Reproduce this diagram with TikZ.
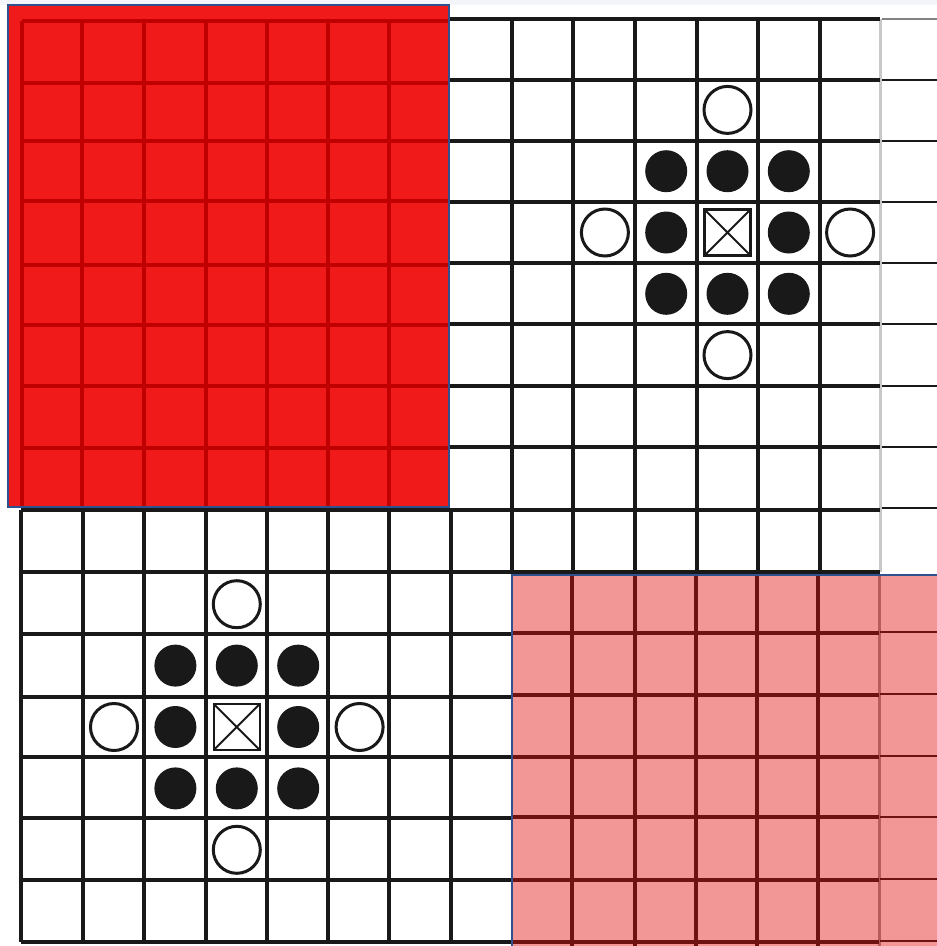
\documentclass[tikz,border=0pt]{standalone}
\definecolor{gridblack}{RGB}{25,25,25}
\definecolor{redfill}{RGB}{240,26,26}
\definecolor{redline}{RGB}{192,0,0}
\definecolor{pinkfill}{RGB}{243,150,150}
\definecolor{pinkline}{RGB}{110,18,18}
\definecolor{bluebord}{RGB}{47,82,143}
\definecolor{topband}{RGB}{243,245,250}
\definecolor{fadeline}{RGB}{200,200,200}
\tikzset{
  gridline/.style={draw=gridblack, line width=3.3pt},
  heavyline/.style={draw=gridblack, line width=4.2pt},
  thinext/.style={draw=gridblack, line width=2.6pt},
  fadedline/.style={draw=fadeline, line width=3pt},
  redgrid/.style={draw=redline, line width=3.6pt},
  pinkgrid/.style={draw=pinkline, line width=3.6pt},
  pinkfade/.style={draw=pinkline!45!pinkfill, line width=3pt},
  pinkext/.style={draw=pinkline, line width=2.6pt},
  overlaybord/.style={draw=bluebord, line width=1.8pt},
  hollow/.style={circle, draw=gridblack, line width=3pt, fill=white, minimum size=47pt, inner sep=0pt},
  dot/.style={circle, fill=gridblack, minimum size=42pt, inner sep=0pt},
  xbox/.style={rectangle, draw=gridblack, line width=2.6pt, fill=white, minimum size=46pt, inner sep=0pt,
    path picture={\draw[gridblack, line width=2pt]
      (path picture bounding box.south west) -- (path picture bounding box.north east)
      (path picture bounding box.north west) -- (path picture bounding box.south east);}},
}
\newcommand\motif[4]{% prefix, cx, cy, pitch
  \node[xbox] (#1c) at (#2,#3) {};
  \foreach \i/\j/\n in {-1/-1/a,0/-1/b,1/-1/c,-1/0/d,1/0/e,-1/1/f,0/1/g,1/1/h}
    \node[dot] (#1\n) at ({#2+\i*#4},{#3+\j*#4}) {};
  \foreach \i/\j/\n in {0/-2/N,0/2/S,-2/0/W,2/0/E}
    \node[hollow] (#1\n) at ({#2+\i*#4},{#3+\j*#4}) {};
}
\begin{document}
\begin{tikzpicture}[x=1pt,y=-1pt]
\useasboundingbox (0,0) rectangle (937,946);
\fill[white] (0,0) rectangle (937,946);
\fill[topband] (0,0) rectangle (937,5);

% ---- top-right grid ----
\foreach \x in {512,697,758,820}
  \draw[gridline] (\x,19) -- (\x,572);
\foreach \x in {573,635}
  \draw[heavyline] (\x,19) -- (\x,572);
\draw[fadedline] (880,19) -- (880,572);
\foreach \y in {19,80,202,263,386,447,510,572}
  \draw[gridline] (450,\y) -- (880,\y);
\foreach \y in {141,324}
  \draw[heavyline] (450,\y) -- (880,\y);
\draw[draw=fadeline!60!gridblack, line width=2.6pt] (882,19) -- (937,19);
\foreach \y in {80,141,202,263,324,386,447,508}
  \draw[thinext] (882,\y) -- (937,\y);

% ---- bottom-left grid ----
\foreach \x in {21,83,144,206,328,389,451}
  \draw[gridline] (\x,510) -- (\x,942);
\draw[heavyline] (267,510) -- (267,942);
\foreach \y in {510,634,697,818,880,942}
  \draw[gridline] (21,\y) -- (512,\y);
\foreach \y in {572,757}
  \draw[heavyline] (21,\y) -- (512,\y);

% ---- motifs ----
\motif{tr}{727.5}{232.5}{61.3}
\motif{bl}{236.8}{727}{61.4}

% ---- red overlay (top-left) ----
\fill[redfill] (8,5) rectangle (449,507);
\foreach \x in {22,82,144,206,267,328,389}
  \draw[redgrid] (\x,21) -- (\x,507);
\foreach \y in {21,83,141,201,265,325,386,448}
  \draw[redgrid] (22,\y) -- (449,\y);
\draw[overlaybord] (8,5) rectangle (449,507);

% ---- pink overlay (bottom-right) ----
\fill[pinkfill] (512,575) rectangle (937,946);
\foreach \x in {572,635,696,757,818}
  \draw[pinkgrid] (\x,575) -- (\x,946);
\draw[pinkfade] (879,575) -- (879,946);
\foreach \y in {633,695,757,817,880,942}
  \draw[pinkgrid] (512,\y) -- (879,\y);
\foreach \y in {632,694,756,817,879,941}
  \draw[pinkext] (880,\y) -- (937,\y);
\draw[overlaybord] (512,946) -- (512,575) -- (937,575);
\end{tikzpicture}
\end{document}
